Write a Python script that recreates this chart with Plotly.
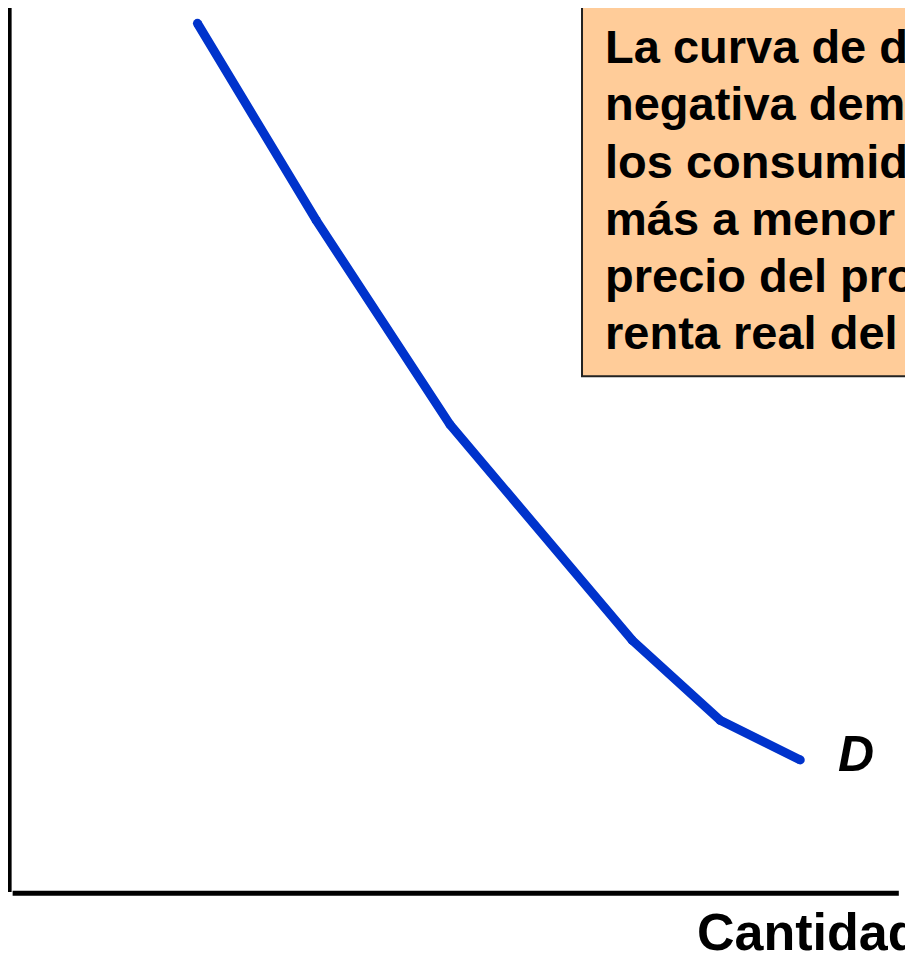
import plotly.graph_objects as go

# Demand curve values (quantity, price) in arbitrary units
quantity = [21.3, 34.8, 50.0, 70.7, 80.7, 89.8]
price = [98.6, 76.2, 53.0, 28.5, 19.4, 14.9]

curve_label = "D"
x_axis_title = "Cantidad"
box_lines = [
    "La curva de demanda con pendiente",
    "negativa demostraría que",
    "los consumidores compran",
    "más a menor precio. El",
    "precio del producto afecta la",
    "renta real del consumidor.",
]

FONT = "Arial, 'Liberation Sans', Helvetica, sans-serif"
BLUE = "#0033CC"

fig = go.Figure()
fig.add_trace(go.Scatter(
    x=quantity, y=price, mode="lines+markers",
    line=dict(color=BLUE, width=9),
    marker=dict(color=BLUE, size=9, line=dict(width=0)),
    hoverinfo="skip", showlegend=False,
))

# axes lines
fig.add_shape(type="line", x0=-0.1, x1=-0.1, y0=-0.1, y1=101.5,
              line=dict(color="black", width=5), layer="below")
fig.add_shape(type="line", x0=0.3, x1=101.0, y0=-0.25, y1=-0.25,
              line=dict(color="black", width=5), layer="below")

# explanatory box
fig.add_shape(type="rect", x0=65.0, x1=106, y0=58.5, y1=100.45,
              line=dict(color="#222222", width=2), fillcolor="#FFCC99", layer="below")
top_line = 95.97
step = 6.51
for i, ln in enumerate(box_lines):
    fig.add_annotation(
        x=67.4, y=top_line - i * step, xref="x", yref="y",
        xanchor="left", yanchor="middle",
        text="<b>" + ln + "</b>", align="left", showarrow=False,
        font=dict(family=FONT, size=47, color="black"),
    )

fig.add_annotation(
    x=93.9, y=15.6, xref="x", yref="y", xanchor="left", yanchor="middle",
    text="<b><i>" + curve_label + "</i></b>", showarrow=False,
    font=dict(family=FONT, size=50, color="black"),
)
fig.add_annotation(
    x=77.8, y=-4.6, xref="x", yref="y", xanchor="left", yanchor="middle",
    text="<b>" + x_axis_title + "</b>", showarrow=False,
    font=dict(family=FONT, size=52, color="black"),
)

fig.update_xaxes(range=[-0.227, 103.52], visible=False, fixedrange=True)
fig.update_yaxes(range=[-7.95, 100.34], visible=False, fixedrange=True)
fig.update_layout(
    width=913, height=953,
    margin=dict(l=0, r=0, t=0, b=0),
    plot_bgcolor="white", paper_bgcolor="white",
    showlegend=False,
)
fig.write_html("out.html")
